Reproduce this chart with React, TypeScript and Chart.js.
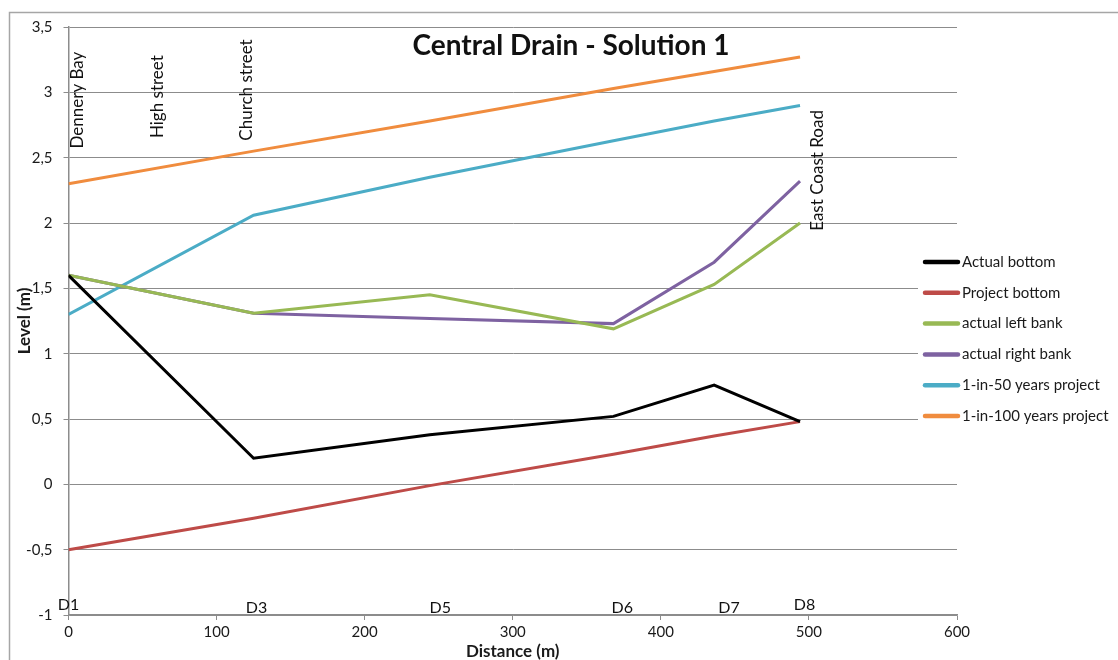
import React, { useEffect, useRef } from "react";
import { Chart, registerables } from "chart.js";

Chart.register(...registerables);

// ---- data ----
const distances = [0, 125, 244, 368, 436, 494];
const stationLabels = ["D1", "D3", "D5", "D6", "D7", "D8"];
const stationLabelX = [0, 127, 251, 374, 446, 497];
const actualBottom = [1.6, 0.2, 0.38, 0.52, 0.76, 0.48];
const projectBottom = [-0.5, -0.26, -0.01, 0.23, 0.37, 0.48];
const actualLeftBank = [1.6, 1.31, 1.45, 1.19, 1.53, 2.0];
const actualRightBank = [1.6, 1.31, 1.27, 1.23, 1.7, 2.32];
const flood50 = [1.3, 2.06, 2.35, 2.63, 2.78, 2.9];
const flood100 = [2.3, 2.55, 2.78, 3.03, 3.16, 3.27];
const seriesNames = [
  "Actual bottom",
  "Project bottom",
  "actual left bank",
  "actual right bank",
  "1-in-50 years project",
  "1-in-100 years project",
];
const seriesColors = ["#000000", "#be4b48", "#98b954", "#7e62a1", "#4bacc6", "#f08c3e"];
const placeNames = ["Dennery Bay", "High street", "Church street", "East Coast Road"];
const placeX = [6, 60, 120, 506];
const placeY = [2.57, 2.65, 2.63, 1.94];
const yTickValues = [-1, -0.5, 0, 0.5, 1, 1.5, 2, 2.5, 3, 3.5];
const xTickValues = [0, 100, 200, 300, 400, 500, 600];
const chartTitle = "Central Drain - Solution 1";
const xTitle = "Distance (m)";
const yTitle = "Level (m)";

const FONT = "Lato, 'Open Sans', sans-serif";
const TEXT = "#1a1a1a";

const toPoints = (ys: number[]) => distances.map((x, i) => ({ x, y: ys[i] }));

const decorPlugin = {
  id: "decor",
  beforeDraw(chart: any) {
    const ctx = chart.ctx;
    ctx.save();
    ctx.strokeStyle = "#a6a6a6";
    ctx.lineWidth = 1.5;
    ctx.beginPath();
    ctx.moveTo(9.5, 660);
    ctx.lineTo(9.5, 12.5);
    ctx.lineTo(1118, 12.5);
    ctx.stroke();
    ctx.restore();
  },
  afterDraw(chart: any) {
    const ctx = chart.ctx;
    const xs = chart.scales.x;
    const ys = chart.scales.y;
    ctx.save();
    // title
    ctx.fillStyle = "#111";
    ctx.font = `bold 28px ${FONT}`;
    ctx.textAlign = "center";
    ctx.textBaseline = "middle";
    ctx.fillText(chartTitle, 571, 46);

    // place names (vertical)
    ctx.font = `17px ${FONT}`;
    ctx.textAlign = "left";
    ctx.textBaseline = "middle";
    placeNames.forEach((name, i) => {
      const px = xs.getPixelForValue(placeX[i]);
      const py = ys.getPixelForValue(placeY[i]);
      ctx.save();
      ctx.translate(px, py);
      ctx.rotate(-Math.PI / 2);
      ctx.fillText(name, 0, 0);
      ctx.restore();
    });

    // station labels
    ctx.font = `16px ${FONT}`;
    ctx.textAlign = "center";
    ctx.textBaseline = "alphabetic";
    const base = ys.getPixelForValue(-1);
    stationLabels.forEach((lab, i) => {
      const px = xs.getPixelForValue(stationLabelX[i]);
      const dy = lab === "D8" ? -5 : lab === "D1" ? -5 : -2;
      ctx.fillText(lab, px, base + dy);
    });

    // legend
    ctx.fillStyle = "#ffffff";
    ctx.fillRect(918, 246, 200, 186);
    ctx.font = `15px ${FONT}`;
    ctx.textAlign = "left";
    ctx.textBaseline = "middle";
    seriesNames.forEach((name, i) => {
      const y = 262 + i * 30.8;
      ctx.strokeStyle = seriesColors[i];
      ctx.lineWidth = 4.5;
      ctx.lineCap = "round";
      ctx.beginPath();
      ctx.moveTo(925, y);
      ctx.lineTo(958, y);
      ctx.stroke();
      ctx.fillStyle = TEXT;
      ctx.fillText(name, 962, y);
    });
    ctx.restore();
  },
};

export default function App() {
  const ref = useRef<HTMLCanvasElement | null>(null);
  useEffect(() => {
    document.body.style.margin = "0";
    if (!ref.current) return;
    const datasets = [actualBottom, projectBottom, actualLeftBank, actualRightBank, flood50, flood100].map(
      (ys, i) => ({
        label: seriesNames[i],
        data: toPoints(ys),
        borderColor: seriesColors[i],
        backgroundColor: seriesColors[i],
        borderWidth: 3,
        pointRadius: 0,
        tension: 0,
        fill: false,
      })
    );
    const chart = new Chart(ref.current, {
      type: "line",
      data: { datasets },
      plugins: [decorPlugin],
      options: {
        responsive: false,
        animation: false,
        layout: { padding: { left: 10, top: 27, right: 161, bottom: 0 } },
        plugins: { legend: { display: false }, tooltip: { enabled: false }, title: { display: false } },
        scales: {
          x: {
            type: "linear",
            min: 0,
            max: 600,
            afterBuildTicks: (s: any) => {
              s.ticks = xTickValues.map((v) => ({ value: v }));
            },
            afterFit: (s: any) => {
              s.height = 45;
            },
            ticks: {
              color: TEXT,
              font: { family: FONT, size: 15 },
              padding: 3,
              maxRotation: 0,
              callback: (v: any) => String(v),
            },
            grid: {
              drawOnChartArea: false,
              drawTicks: true,
              tickLength: 5,
              color: "#8c8c8c",
            },
            border: { color: "#8c8c8c", width: 1.5 },
            title: {
              display: true,
              text: xTitle,
              color: TEXT,
              font: { family: FONT, size: 17, weight: "bold" },
              padding: { top: 0, bottom: -2 },
            },
          },
          y: {
            type: "linear",
            min: -1,
            max: 3.5,
            afterBuildTicks: (s: any) => {
              s.ticks = yTickValues.map((v) => ({ value: v }));
            },
            afterFit: (s: any) => {
              s.width = 58.5;
            },
            ticks: {
              color: TEXT,
              font: { family: FONT, size: 15 },
              padding: 11,
              callback: (v: any) => String(v).replace(".", ","),
            },
            grid: {
              color: "#8c8c8c",
              lineWidth: 1,
              drawTicks: true,
              tickLength: 5,
            },
            border: { color: "#8c8c8c", width: 1.5 },
            title: {
              display: true,
              text: yTitle,
              color: TEXT,
              font: { family: FONT, size: 17, weight: "bold" },
              padding: { top: 4, bottom: 0 },
            },
          },
        },
      },
    });
    return () => chart.destroy();
  }, []);
  return (
    <div style={{ position: "fixed", left: 0, top: 0, width: 1118, height: 660, background: "#fff" }}>
      <canvas ref={ref} width={1118} height={660} style={{ width: 1118, height: 660 }} />
    </div>
  );
}
